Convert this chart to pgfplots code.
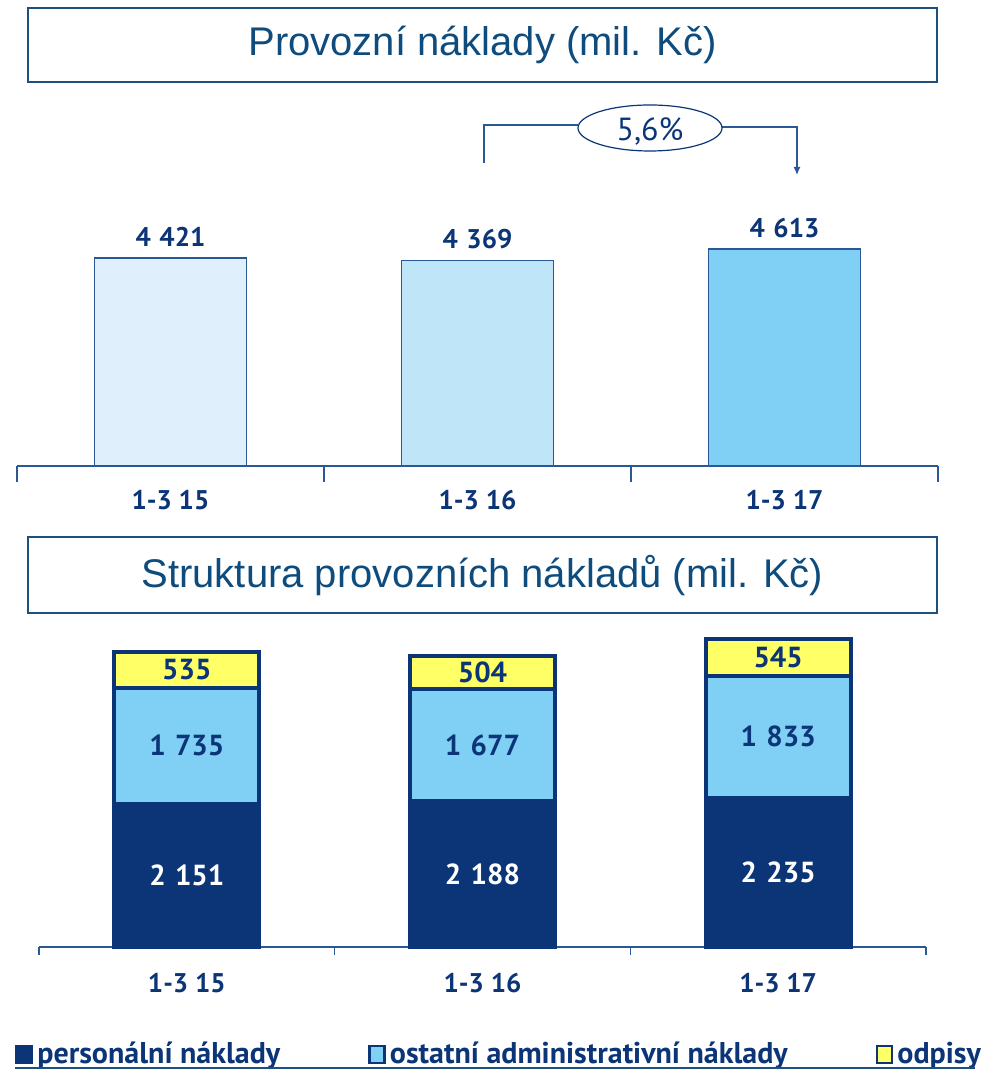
\documentclass[border=0pt]{standalone}
\usepackage{fontspec}
\setmainfont{PT Sans}
\newfontfamily\titlefont{Liberation Sans}
\usepackage{pgfplots}
\pgfplotsset{compat=1.18}
\usepackage{pgfplotstable}
\usetikzlibrary{arrows.meta}

\definecolor{navy}{HTML}{0B3577}
\definecolor{lightblue}{HTML}{80CFF4}
\definecolor{paleblue}{HTML}{DFF0FC}
\definecolor{midblue}{HTML}{BFE5F9}
\definecolor{odpisy}{HTML}{FFFF66}
\definecolor{axisblue}{HTML}{2A5894}
\definecolor{titletext}{HTML}{0E4C7E}
\definecolor{titleline}{HTML}{1F4F7F}

% operating cost structure (mil. CZK)
\pgfplotstableread{
x pers ost odp
0 2151 1735 535
1 2188 1677 504
2 2235 1833 545
}\structtab

\newcommand{\lblfont}{\bfseries\fontsize{13.5}{16}\selectfont}
\newcommand{\stackfont}{\bfseries\fontsize{14.5}{17}\selectfont}
\newcommand{\thsp}[1]{\pgfmathprintnumber[assume math mode=true,1000 sep={\hspace{0.32em}}]{#1}}

\begin{document}
\begin{tikzpicture}[x=0.5pt,y=0.5pt]
\path[use as bounding box] (0,0) rectangle (990,1071);

% ---- title boxes ----
\draw[titleline, line width=1pt] (28,989) rectangle (937,1063);
\node[text=titletext, font=\titlefont\fontsize{20}{23}\selectfont] at (482.5,1026) {Provozní náklady (mil. Kč)};
\draw[titleline, line width=1pt] (28,458) rectangle (937,534);
\node[text=titletext, font=\titlefont\fontsize{20}{23}\selectfont] at (482.5,495) {Struktura provozních nákladů (mil. Kč)};

% ---- total operating costs ----
\begin{axis}[
  at={(8.5pt,302.5pt)}, anchor=south west,
  scale only axis, width=460.5pt, height=141.15pt,
  xmin=-0.5, xmax=2.5, ymin=0, ymax=6000,
  axis x line=bottom, axis y line=none, ytick=\empty,
  axis line style={-, draw=axisblue, line width=0.7pt},
  xtick={0,1,2}, xticklabels={1-3 15,1-3 16,1-3 17},
  major tick length=0pt,
  minor xtick={-0.5,0.5,1.5,2.5}, minor tick length=8pt, tick align=center,
  tick style={draw=axisblue, line width=0.7pt},
  xticklabel style={font=\lblfont, text=navy, anchor=center, yshift=-17pt},
  ybar, bar width=76pt, bar shift=0pt,
  nodes near coords={\thsp{\pgfplotspointmeta}},
  every node near coord/.append style={font=\lblfont, text=navy, anchor=center, yshift=10.5pt},
  clip=false,
]
\addplot[fill=paleblue, draw=axisblue, line width=0.7pt] coordinates {(0,4421)};
\addplot[fill=midblue, draw=axisblue, line width=0.7pt] coordinates {(1,4369)};
\addplot[fill=lightblue, draw=axisblue, line width=0.7pt] coordinates {(2,4613)};
\end{axis}

% growth bracket
\draw[axisblue, line width=0.6pt] (484,908) -- (484,946) -- (578,946);
\draw[axisblue, line width=0.6pt, -{Latex[length=4pt,width=3.5pt]}] (722,944) -- (797,944) -- (797,896);
\draw[navy, line width=0.6pt, fill=white] (650,943) ellipse [x radius=72, y radius=23];
\node[text=navy, font=\fontsize{16}{19}\selectfont] at (650,940) {5,6\%};

% ---- cost structure ----
\begin{axis}[
  at={(19.5pt,62pt)}, anchor=south west,
  scale only axis, width=443.5pt, height=166.75pt,
  xmin=-0.5, xmax=2.5, ymin=0, ymax=5000,
  axis x line=bottom, axis y line=none, ytick=\empty,
  axis line style={-, draw=axisblue, line width=0.6pt},
  xtick={0,1,2}, xticklabels={1-3 15,1-3 16,1-3 17},
  major tick length=0pt,
  minor xtick={-0.5,0.5,1.5,2.5}, minor tick length=4pt, tick align=outside,
  tick style={draw=axisblue, line width=0.6pt},
  xticklabel style={font=\lblfont, text=navy, anchor=center, yshift=-18pt},
  ybar stacked, bar width=72.5pt,
  clip=false,
  legend columns=3,
  legend cell align=left,
  legend style={draw=none, fill=none, at={(axis description cs:-0.0271,-0.3208)}, anchor=west,
    font=\bfseries\fontsize{15}{17}\selectfont, text=navy, inner sep=0pt,
    /tikz/every even column/.append style={column sep=42pt}},
]
\addplot[fill=navy, draw=navy, line width=2pt,
  legend image code/.code={\draw[fill=navy, draw=navy, line width=1pt] (0pt,-4.5pt) rectangle (8pt,4pt);}]
  table[x=x, y=pers] \structtab;
\addlegendentry{personální náklady}
\addplot[fill=lightblue, draw=navy, line width=2pt,
  legend image code/.code={\draw[fill=lightblue, draw=navy, line width=1.3pt] (0pt,-4.5pt) rectangle (7.5pt,4pt);}]
  table[x=x, y=ost] \structtab;
\addlegendentry{ostatní administrativní náklady}
\addplot[fill=odpisy, draw=navy, line width=2pt,
  legend image code/.code={\draw[fill=odpisy, draw=navy, line width=1.3pt] (0pt,-4.5pt) rectangle (7.5pt,4pt);}]
  table[x=x, y=odp] \structtab;
\addlegendentry{odpisy}
\end{axis}

% segment values, centred in each segment
\begin{axis}[
  at={(19.5pt,62pt)}, anchor=south west,
  scale only axis, width=443.5pt, height=166.75pt,
  xmin=-0.5, xmax=2.5, ymin=0, ymax=5000,
  hide axis, clip=false,
  point meta=explicit,
  nodes near coords={\thsp{\pgfplotspointmeta}},
  every node near coord/.append style={font=\stackfont, anchor=center},
]
\addplot[draw=none, mark=none, nodes near coords style={text=white}]
  table[x=x, y expr=\thisrow{pers}/2, meta=pers] \structtab;
\addplot[draw=none, mark=none, nodes near coords style={text=navy}]
  table[x=x, y expr=\thisrow{pers}+\thisrow{ost}/2, meta=ost] \structtab;
\addplot[draw=none, mark=none, nodes near coords style={text=navy}]
  table[x=x, y expr=\thisrow{pers}+\thisrow{ost}+\thisrow{odp}/2, meta=odp] \structtab;
\end{axis}

% rule under the legend
\draw[titleline, line width=1pt] (15,3) -- (975,3);
\end{tikzpicture}
\end{document}
